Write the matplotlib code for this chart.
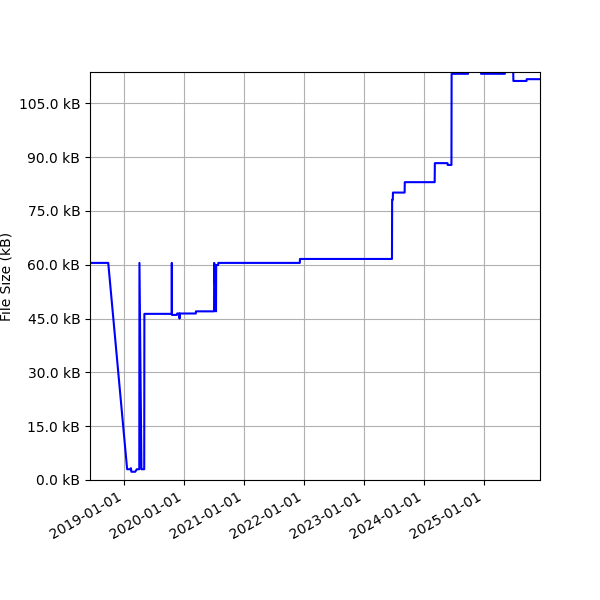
import pandas as pd
import matplotlib
matplotlib.use('Agg')
import matplotlib.pyplot as plt
import matplotlib.dates as mdates
from matplotlib.ticker import FuncFormatter, MultipleLocator

# Historique de la taille du fichier (kB)
dates = [
    "2018-06-08", "2018-09-27", "2019-01-20", "2019-02-08", "2019-02-12",
    "2019-02-15", "2019-03-10", "2019-03-20", "2019-04-04", "2019-04-05",
    "2019-04-17", "2019-05-04", "2019-05-05", "2019-10-18", "2019-10-19",
    "2019-10-20", "2019-11-19", "2019-11-20", "2019-12-04", "2019-12-05",
    "2019-12-07", "2020-03-13", "2020-03-14", "2020-07-02", "2020-07-03",
    "2020-07-14", "2020-07-15", "2020-07-27", "2020-07-28", "2021-12-06",
    "2021-12-07", "2023-06-20", "2023-06-21", "2023-06-25", "2023-06-26",
    "2023-09-05", "2023-09-06", "2024-03-06", "2024-03-07", "2024-05-23",
    "2024-05-24", "2024-06-16", "2024-06-17", "2024-09-25", "2024-09-26",
    "2024-12-12", "2024-12-13", "2025-05-07", "2025-05-08", "2025-06-27",
    "2025-06-28", "2025-09-16", "2025-09-17", "2025-12-07",
]
sizes_kb = [
    60.5, 60.5, 3.0, 3.0, 3.3,
    2.3, 2.3, 3.0, 3.0, 60.5,
    3.0, 3.0, 46.3, 46.3, 60.5,
    46.0, 46.0, 46.4, 46.4, 45.0,
    46.4, 46.4, 47.0, 47.0, 60.5,
    47.0, 59.9, 59.9, 60.5, 60.5,
    61.6, 61.6, 78.1, 78.1, 80.1,
    80.1, 83.0, 83.0, 88.3, 88.3,
    87.8, 87.8, 113.2, 113.2, 116.0,
    116.0, 113.2, 113.2, 113.7, 113.7,
    111.2, 111.2, 111.7, 111.7,
]

data = pd.DataFrame({'date': pd.to_datetime(dates), 'size': sizes_kb})

fig, ax = plt.subplots(figsize=(6, 6), dpi=100)
ax.plot(data['date'], data['size'], color='blue', linewidth=1.5)
ax.set_ylabel("File Size (kB)")
ax.yaxis.set_major_locator(MultipleLocator(15))
ax.yaxis.set_major_formatter(FuncFormatter(lambda v, p: f"{v:.1f} kB"))
ax.xaxis.set_major_locator(mdates.YearLocator())
ax.xaxis.set_major_formatter(mdates.DateFormatter('%Y-%m-%d'))
ax.set_xlim(data['date'].min(), data['date'].max())
ax.set_ylim(0, 113.7)
ax.grid(True)
fig.autofmt_xdate()
fig.subplots_adjust(left=0.15, right=0.9, top=0.88, bottom=0.2)
plt.savefig('out.png')
